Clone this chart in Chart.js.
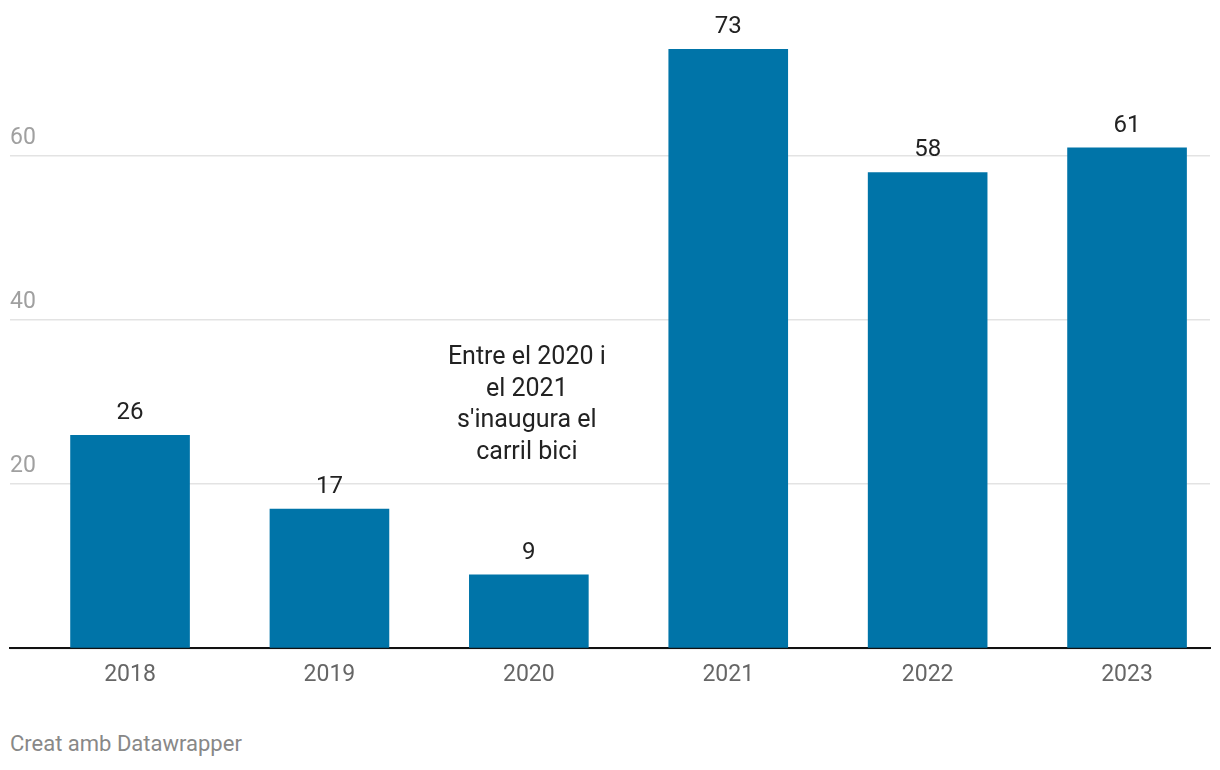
<!DOCTYPE html>
<html>
<head>
<meta charset="utf-8">
<script src="https://cdn.jsdelivr.net/npm/chart.js@4"></script>
<style>
  html, body { margin: 0; padding: 0; background: #fff; overflow: hidden; }
  #wrap { position: relative; width: 1220px; height: 770px; }
  #footer {
    position: absolute; left: 10px; top: 731px;
    font-family: Roboto, sans-serif; font-size: 22px; color: #888;
  }
</style>
</head>
<body>
<div id="wrap">
  <canvas id="chart" width="1220" height="720"></canvas>
  <div id="footer">Creat amb Datawrapper</div>
</div>
<script>
// dades
const years = ['2018', '2019', '2020', '2021', '2022', '2023'];
const values = [26, 17, 9, 73, 58, 61];
const yTicks = [0, 20, 40, 60];
const noteLines = ["Entre el 2020 i", "el 2021", "s'inaugura el", "carril bici"];

const barColor = '#0074a8';

// etiquetes de valor sobre les barres + nota
const labelsPlugin = {
    id: 'labels',
    afterDatasetsDraw(chart) {
        const ctx = chart.ctx;
        const meta = chart.getDatasetMeta(0);
        ctx.save();
        ctx.font = '24px Roboto, sans-serif';
        ctx.fillStyle = '#222';
        ctx.textAlign = 'center';
        ctx.textBaseline = 'alphabetic';
        meta.data.forEach((bar, i) => {
            ctx.fillText(String(values[i]), bar.x, bar.y - 16);
        });

        // nota sobre 2020
        const x = chart.scales.x.getPixelForValue(2) - 2;
        const yTop = chart.scales.y.getPixelForValue(35.4);
        ctx.font = '25px Roboto, sans-serif';
        ctx.textBaseline = 'middle';
        noteLines.forEach((line, k) => {
            ctx.fillText(line, x, yTop + k * 31.7);
        });
        ctx.restore();
    }
};

new Chart(document.getElementById('chart').getContext('2d'), {
    type: 'bar',
    data: {
        datasets: [{
            data: values.map((v, i) => ({x: i, y: v})),
            backgroundColor: barColor,
            borderWidth: 0,
            barPercentage: 0.6,
            categoryPercentage: 1,
        }]
    },
    options: {
        responsive: false,
        animation: false,
        events: [],
        layout: { padding: { left: 10, right: 10, top: 2, bottom: 18 } },
        plugins: {
            legend: { display: false },
            tooltip: { enabled: false },
        },
        scales: {
            x: {
                type: 'linear',
                offset: false,
                min: -0.602,
                max: 5.416,
                afterBuildTicks: axis => { axis.ticks = years.map((y, i) => ({value: i})); },
                ticks: {
                    callback: v => years[v],
                    font: { family: 'Roboto, sans-serif', size: 23 },
                    color: '#666',
                    padding: 13,
                    maxRotation: 0,
                    autoSkip: false,
                },
                grid: { display: false, drawTicks: false },
                border: { display: true, color: '#111', width: 2 },
            },
            y: {
                min: 0,
                max: 77.3,
                afterBuildTicks: axis => { axis.ticks = yTicks.map(v => ({value: v})); },
                ticks: {
                    mirror: true,
                    padding: 0,
                    labelOffset: -18,
                    callback: v => v === 0 ? '' : v,
                    font: { family: 'Roboto, sans-serif', size: 23 },
                    color: '#a0a0a0',
                },
                grid: { color: '#e3e3e3', lineWidth: 1.5, drawTicks: false },
                border: { display: false },
            }
        }
    },
    plugins: [labelsPlugin]
});
</script>
</body>
</html>
